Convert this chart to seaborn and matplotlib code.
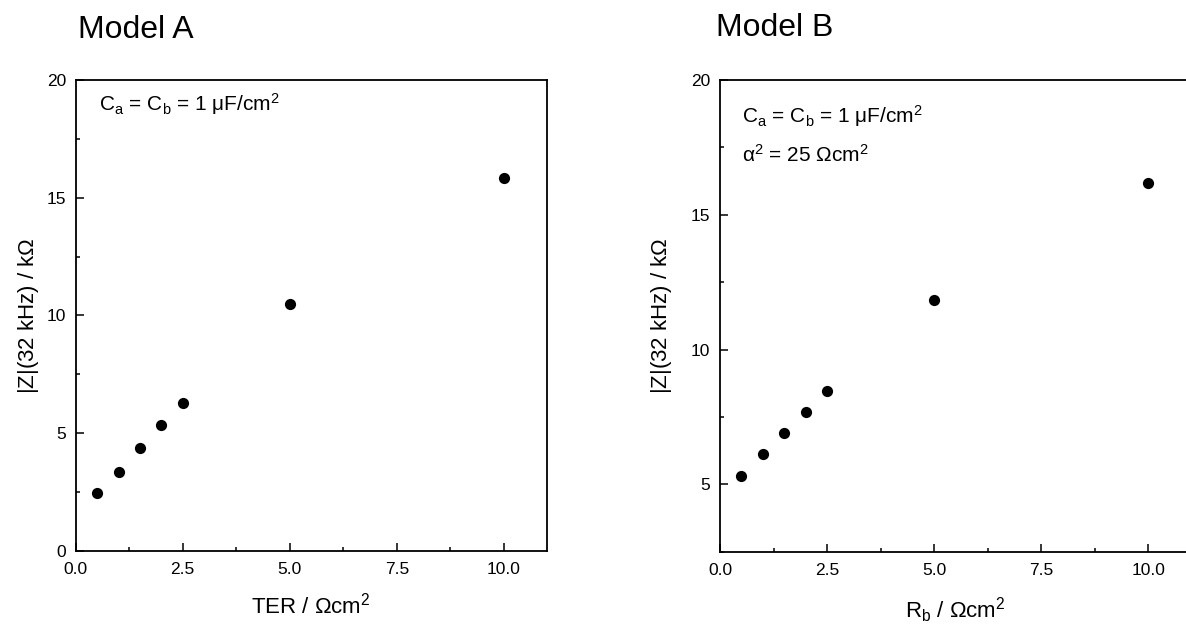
import matplotlib
matplotlib.use("Agg")
import matplotlib.pyplot as plt
import seaborn as sns
import pandas as pd
from matplotlib.ticker import MultipleLocator

# ---- data ----
ter_a = [0.5, 1.0, 1.5, 2.0, 2.5, 5.0, 10.0]
z_a = [2.44, 3.36, 4.35, 5.32, 6.27, 10.50, 15.83]
rb_b = [0.5, 1.0, 1.5, 2.0, 2.5, 5.0, 10.0]
z_b = [5.32, 6.12, 6.90, 7.69, 8.45, 11.83, 16.19]
xticks = [0.0, 2.5, 5.0, 7.5, 10.0]
yticks_a = [0, 5, 10, 15, 20]
yticks_b = [5, 10, 15, 20]

sns.set_theme(style="ticks")
plt.rcParams['font.family'] = ['Liberation Sans', 'DejaVu Sans']
plt.rcParams['mathtext.fontset'] = 'custom'
plt.rcParams['mathtext.rm'] = 'Liberation Sans'
plt.rcParams['mathtext.it'] = 'Liberation Sans'
plt.rcParams['mathtext.default'] = 'regular'
plt.rcParams['text.color'] = 'black'
plt.rcParams['axes.labelcolor'] = 'black'

W, H = 1186, 624
fig = plt.figure(figsize=(W / 100, H / 100), dpi=100)

ax1 = fig.add_axes([75.7 / W, 1 - 550.7 / H, 471 / W, 470.7 / H])
ax2 = fig.add_axes([720 / W, 1 - 551.7 / H, 471 / W, 471.7 / H])

df_a = pd.DataFrame({"x": ter_a, "y": z_a})
df_b = pd.DataFrame({"x": rb_b, "y": z_b})

sns.scatterplot(data=df_a, x="x", y="y", ax=ax1, color="black", s=65,
                edgecolor="black", linewidth=0)
sns.scatterplot(data=df_b, x="x", y="y", ax=ax2, color="black", s=65,
                edgecolor="black", linewidth=0)

ax1.set_xlim(0, 11)
ax1.set_ylim(0, 20)
ax2.set_xlim(0, 11)
ax2.set_ylim(2.5, 20)

for ax, yt in ((ax1, yticks_a), (ax2, yticks_b)):
    ax.set_xticks(xticks)
    ax.set_xticklabels([f"{v:.1f}" for v in xticks])
    ax.set_yticks(yt)
    ax.set_yticklabels([str(v) for v in yt])
    ax.xaxis.set_minor_locator(MultipleLocator(1.25))
    ax.yaxis.set_minor_locator(MultipleLocator(2.5))
    ax.tick_params(which="major", direction="in", length=6, width=1.1,
                   labelsize=12.5, color="black", labelcolor="black")
    ax.tick_params(axis="x", which="major", pad=8)
    ax.tick_params(axis="y", which="major", pad=7)
    ax.tick_params(which="minor", direction="in", length=3, width=1.1,
                   color="black")
    for sp in ax.spines.values():
        sp.set_visible(True)
        sp.set_linewidth(1.3)
        sp.set_color("black")
    ax.set_ylabel(r"|Z|(32 kHz) / k$\Omega$", fontsize=16)

ax1.set_xlabel(r"TER / $\Omega$cm$^2$", fontsize=16)
ax2.set_xlabel(r"R$_b$ / $\Omega$cm$^2$", fontsize=16)
ax1.xaxis.set_label_coords(0.5, -0.090)
ax2.xaxis.set_label_coords(0.5, -0.092)
ax1.yaxis.set_label_coords(-0.074, 0.5)
ax2.yaxis.set_label_coords(-0.098, 0.5)

fig.text(78 / W, 1 - 38 / H, "Model A", fontsize=23, va="baseline", ha="left")
fig.text(716 / W, 1 - 36 / H, "Model B", fontsize=23, va="baseline", ha="left")

fig.text(99 / W, 1 - 111 / H, r"C$_a$ = C$_b$ = 1 μF/cm$^2$", fontsize=15,
         va="baseline", ha="left")
fig.text(741.7 / W, 1 - 122.7 / H, r"C$_a$ = C$_b$ = 1 μF/cm$^2$", fontsize=15,
         va="baseline", ha="left")
fig.text(741.7 / W, 1 - 162 / H, r"$\alpha^2$ = 25 $\Omega$cm$^2$", fontsize=15,
         va="baseline", ha="left")

fig.savefig("out.png", dpi=100)
